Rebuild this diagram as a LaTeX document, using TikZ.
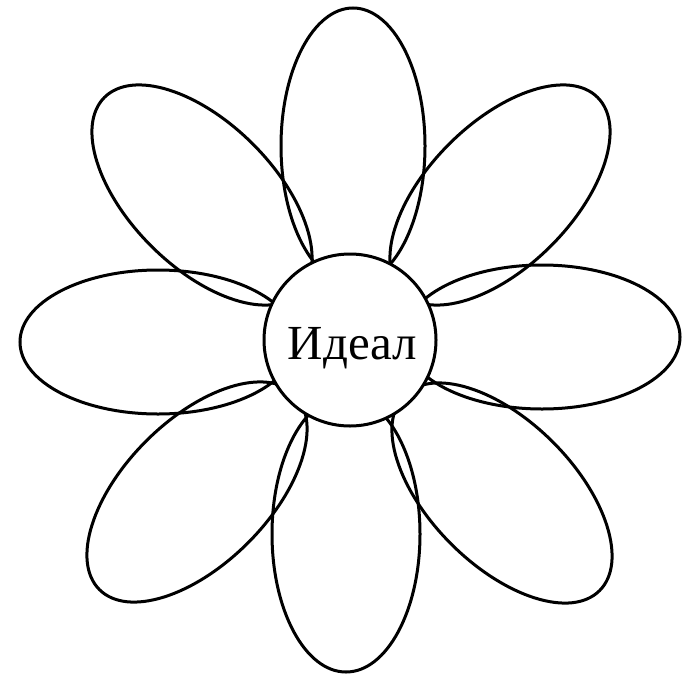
\documentclass[tikz,border=0pt]{standalone}
\usepackage{fontspec}
\setmainfont{Liberation Serif}
\usetikzlibrary{shapes.geometric}
\begin{document}
\begin{tikzpicture}[x=1pt,y=-1pt,
  petal/.style={draw, ellipse, line width=3pt, inner sep=0pt, minimum width=276pt, minimum height=144pt},
  heart/.style={draw, circle, fill=white, line width=3pt, inner sep=0pt, minimum size=172pt},
  label/.style={font=\fontsize{49}{55}\selectfont, inner sep=0pt, anchor=base}]
\useasboundingbox (0,0) rectangle (690,680);
\node[petal, rotate=90] (pt) at (353,146) {};
\node[petal, rotate=90, minimum height=148pt] (pb) at (346,534) {};
\node[petal] (pl) at (158,342) {};
\node[petal] (pr) at (542,337) {};
\node[petal, rotate=-45] (ptl) at (202,195) {};
\node[petal, rotate=45] (ptr) at (500,195) {};
\node[petal, rotate=45] (pbl) at (197,492) {};
\node[petal, rotate=-45] (pbr) at (502,493) {};
\node[heart] (c) at (350,340) {};
\node[label] (t) at (352.5,359) {Идеал};
\end{tikzpicture}
\end{document}
